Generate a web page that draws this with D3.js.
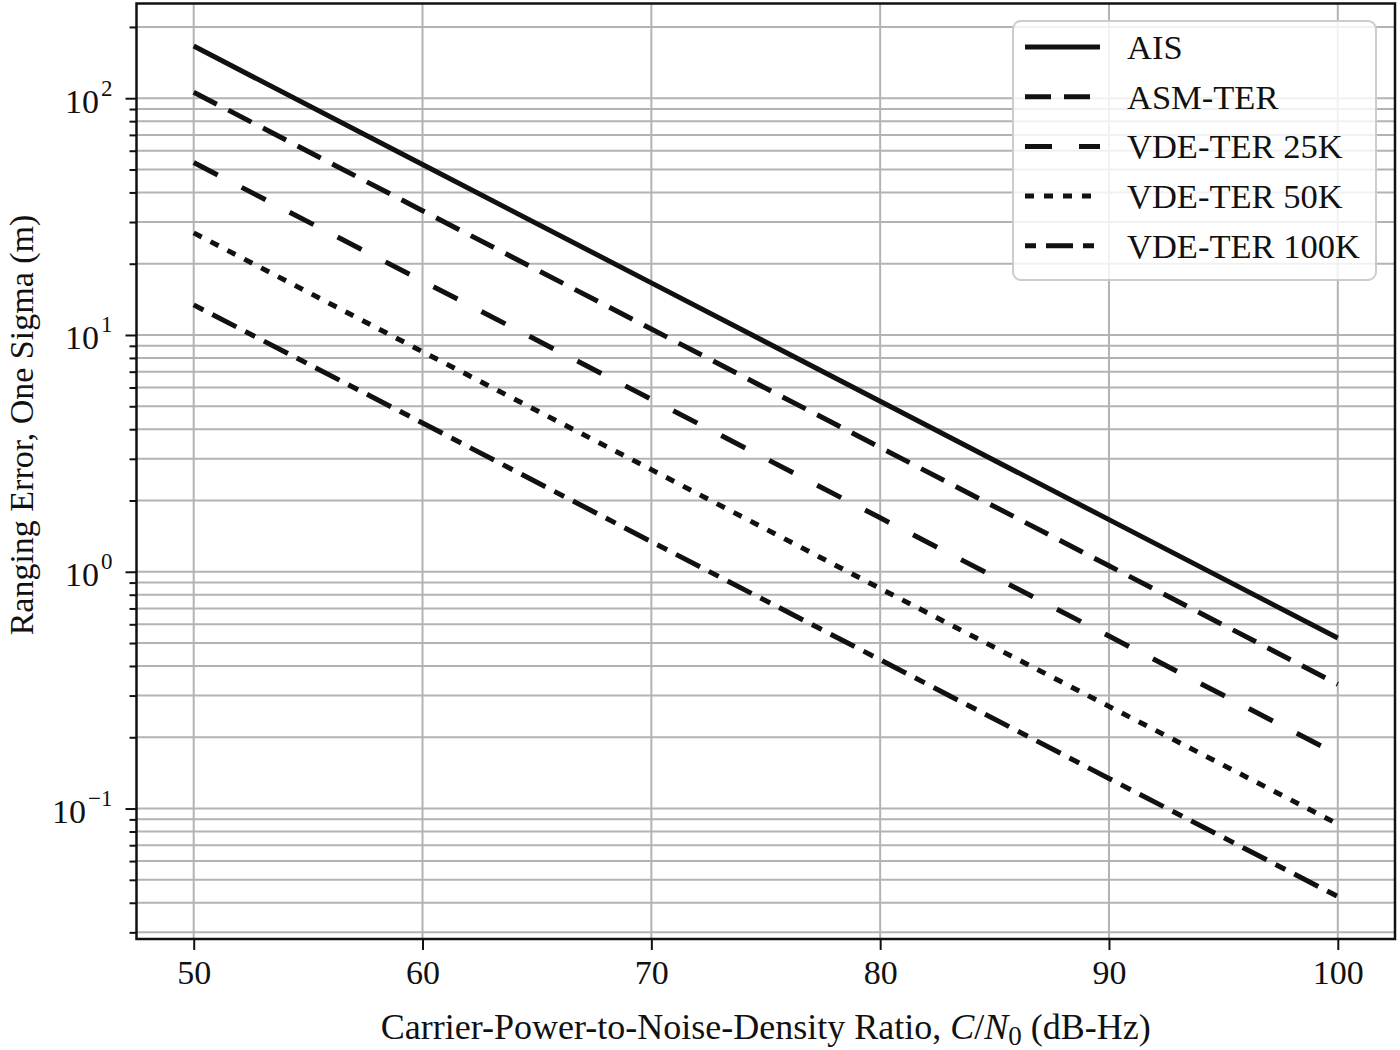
<!DOCTYPE html>
<html>
<head>
<meta charset="utf-8">
<script src="https://cdn.jsdelivr.net/npm/d3@7"></script>
<style>
  body { margin: 0; background: #fff; }
  svg { display: block; }
  text { font-family: "Liberation Serif", "Times New Roman", serif; fill: #111; }
</style>
</head>
<body>
<svg id="chart" width="1400" height="1050"></svg>
<script>
// ---- data ----
const cn0 = [50, 60, 70, 80, 90, 100];
const seriesNames = ["AIS", "ASM-TER", "VDE-TER 25K", "VDE-TER 50K", "VDE-TER 100K"];
const ais      = [166, 52.5, 16.6, 5.25, 1.66, 0.525];
const asmTer   = [106, 33.5, 10.6, 3.35, 1.06, 0.335];
const vde25k   = [53.5, 16.9, 5.35, 1.69, 0.535, 0.169];
const vde50k   = [27, 8.5, 2.7, 0.85, 0.27, 0.086];
const vde100k  = [13.4, 4.25, 1.34, 0.425, 0.134, 0.0425];
const xTicks = [50, 60, 70, 80, 90, 100];
const yMajorExps = [-1, 0, 1, 2];
const xLabelParts = ["Carrier-Power-to-Noise-Density Ratio, ", "C", "/", "N", "0", " (dB-Hz)"];
const yLabel = "Ranging Error, One Sigma (m)";

const seriesValues = [ais, asmTer, vde25k, vde50k, vde100k];
const dashes = [null, "26,13", "27,27", "9,10", "11,10,27,10"];

const svg = d3.select("#chart");
const m = { left: 136.5, right: 1395, top: 3.5, bottom: 939 };

const x = d3.scaleLinear().domain([47.5, 102.5]).range([m.left, m.right]);
const y = d3.scaleLog().domain([Math.pow(10, -1.551), Math.pow(10, 2.400)]).range([m.bottom, m.top]);

// minor tick values
const yMinor = [];
for (let e = -2; e <= 2; e++) for (let k = 2; k <= 9; k++) {
  const v = k * Math.pow(10, e);
  if (v >= y.domain()[0] && v <= y.domain()[1]) yMinor.push(v);
}
const yMajor = yMajorExps.map(e => Math.pow(10, e));

// grid
const grid = svg.append("g").attr("stroke", "#b3b3b3").attr("stroke-width", 2);
grid.selectAll(".gy").data(yMajor.concat(yMinor)).join("line")
  .attr("x1", m.left).attr("x2", m.right).attr("y1", d => y(d)).attr("y2", d => y(d));
grid.selectAll(".gx").data(xTicks).join("line")
  .attr("y1", m.top).attr("y2", m.bottom).attr("x1", d => x(d)).attr("x2", d => x(d));

// lines
const line = d3.line().x((d, i) => x(cn0[i])).y(d => y(d));
svg.append("g").selectAll("path").data(seriesValues).join("path")
  .attr("d", d => line(d))
  .attr("fill", "none").attr("stroke", "#111").attr("stroke-width", 5)
  .attr("stroke-dasharray", (d, i) => dashes[i]);

// axes
const xAxis = d3.axisBottom(x).tickValues(xTicks).tickSize(11).tickPadding(8).tickFormat(d3.format("d"));
const gx = svg.append("g").attr("transform", `translate(0,${m.bottom})`).call(xAxis);
gx.select(".domain").remove();
gx.selectAll(".tick line").attr("stroke", "#111").attr("stroke-width", 2);
gx.selectAll(".tick text").attr("font-size", 34).attr("font-family", "Liberation Serif").attr("fill", "#111").attr("dy", "0.75em");

const yAxisMinor = d3.axisLeft(y).tickValues(yMinor).tickSize(7).tickFormat("");
const gym = svg.append("g").attr("transform", `translate(${m.left},0)`).call(yAxisMinor);
gym.select(".domain").remove();
gym.selectAll(".tick line").attr("stroke", "#111").attr("stroke-width", 2);

const yAxis = d3.axisLeft(y).tickValues(yMajor).tickSize(11).tickFormat("");
const gy = svg.append("g").attr("transform", `translate(${m.left},0)`).call(yAxis);
gy.select(".domain").remove();
gy.selectAll(".tick line").attr("stroke", "#111").attr("stroke-width", 2);
gy.selectAll(".tick").each(function(d) {
  const e = Math.round(Math.log10(d));
  const t = d3.select(this).append("text").attr("x", -24).attr("y", 14)
    .attr("text-anchor", "end").attr("font-size", 34).attr("fill", "#111");
  t.append("tspan").text("10");
  t.append("tspan").attr("dx", 2).attr("dy", -17).attr("font-size", 23).text(e < 0 ? "\u2212" + Math.abs(e) : String(e));
});

// frame
svg.append("rect").attr("x", m.left).attr("y", m.top)
  .attr("width", m.right - m.left).attr("height", m.bottom - m.top)
  .attr("fill", "none").attr("stroke", "#111").attr("stroke-width", 2.5);

// axis labels
const xl = svg.append("text").attr("x", (m.left + m.right) / 2).attr("y", 1039)
  .attr("text-anchor", "middle").attr("font-size", 36);
xl.append("tspan").text(xLabelParts[0]);
xl.append("tspan").attr("font-style", "italic").text(xLabelParts[1]);
xl.append("tspan").text(xLabelParts[2]);
xl.append("tspan").attr("font-style", "italic").text(xLabelParts[3]);
xl.append("tspan").attr("dy", 6).attr("font-size", 27).text(xLabelParts[4]);
xl.append("tspan").attr("dy", -6).text(xLabelParts[5]);

svg.append("text").attr("transform", "translate(33,425) rotate(-90)")
  .attr("text-anchor", "middle").attr("font-size", 34).text(yLabel);

// legend
const lg = svg.append("g");
lg.append("rect").attr("x", 1013).attr("y", 21).attr("width", 363).attr("height", 259)
  .attr("rx", 8).attr("fill", "rgba(255,255,255,0.82)").attr("stroke", "#cccccc").attr("stroke-width", 2);
seriesNames.forEach((name, i) => {
  const cy = 47 + i * 49.7;
  lg.append("line").attr("x1", 1025).attr("x2", 1100).attr("y1", cy).attr("y2", cy)
    .attr("stroke", "#111").attr("stroke-width", 5).attr("stroke-dasharray", dashes[i]);
  lg.append("text").attr("x", 1127).attr("y", cy + 12).attr("font-size", 34.5).text(name);
});
</script>
</body>
</html>
